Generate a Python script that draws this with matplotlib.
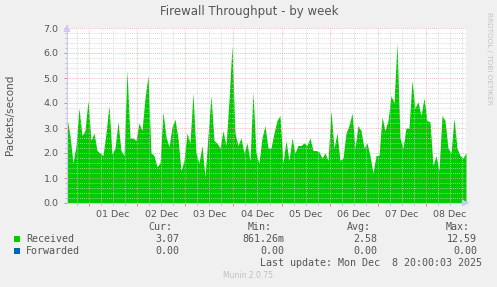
import matplotlib
matplotlib.use("Agg")
import matplotlib.pyplot as plt
import matplotlib.dates as mdates
from matplotlib.ticker import MultipleLocator, FuncFormatter, NullFormatter
import numpy as np
import pandas as pd

# Munin "Firewall Throughput - by week"
start = "2025-11-30 13:00"
end = "2025-12-08 20:00"

received = [
    3.4, 2.7, 1.6, 2.3, 3.8, 2.7, 2.9, 4.1, 2.5, 2.8,
    2.1, 2.0, 1.9, 2.8, 3.9, 1.95, 2.2, 3.25, 2.1, 1.9,
    5.3, 2.6, 2.6, 2.5, 3.2, 2.9, 4.2, 5.1, 2.0, 1.9,
    1.45, 1.6, 3.65, 2.65, 2.25, 3.05, 3.35, 2.6, 1.3, 1.7,
    2.8, 2.4, 4.4, 2.0, 1.6, 2.3, 1.05, 2.7, 4.3, 2.5,
    2.4, 2.2, 2.9, 2.3, 4.1, 6.3, 2.8, 2.3, 2.6, 2.0,
    2.4, 1.7, 4.45, 2.0, 1.6, 2.6, 3.1, 2.2, 2.2, 2.8,
    3.3, 3.5, 1.6, 2.5, 1.7, 2.6, 2.0, 2.3, 2.3, 2.4,
    2.3, 2.6, 2.1, 2.1, 2.05, 1.8, 2.0, 1.7, 3.7, 2.2,
    2.8, 1.7, 1.8, 2.8, 3.1, 3.6, 2.2, 3.1, 2.9, 2.2,
    2.4, 1.9, 1.2, 1.9, 1.9, 3.45, 2.9, 3.3, 4.3, 4.0,
    6.4, 2.6, 2.2, 3.0, 3.0, 4.9, 3.8, 4.05, 3.5, 4.2,
    3.3, 3.25, 1.5, 1.9, 1.3, 3.5, 3.3, 2.2, 2.0, 3.4,
    2.2, 1.9, 1.8, 2.0,
]
forwarded = [0.0] * len(received)

legend_names = ["Received", "Forwarded"]
legend_colors = ["#00CC00", "#0066B3"]
col_headers = ["Cur:", "Min:", "Avg:", "Max:"]
stats = [
    ["3.07", "861.26m", "2.58", "12.59"],
    ["0.00", "0.00", "0.00", "0.00"],
]

times = pd.date_range(start, end, periods=len(received))

W, H = 497, 287
BG = "#F0F0F0"
TXT = "#555555"
AXC = "#C8CCF4"
MGRID = "#EBA0A0"
GRID = "#CFCFCF"


def px(x, y):
    return x / W, 1 - y / H


fig = plt.figure(figsize=(W / 100, H / 100), dpi=100, facecolor=BG)
ax = fig.add_axes([67 / W, 84 / H, 399 / W, 175 / H])
ax.set_facecolor("white")

ax.fill_between(times, 0, received, color=legend_colors[0], linewidth=0, zorder=2)
ax.fill_between(times, received, np.array(received) + np.array(forwarded),
                color=legend_colors[1], linewidth=0, zorder=2)

ax.set_xlim(pd.Timestamp(start), pd.Timestamp(end))
ax.set_ylim(0, 7)

# y axis grid
ax.yaxis.set_major_locator(MultipleLocator(1.0))
ax.yaxis.set_minor_locator(MultipleLocator(0.2))
ax.yaxis.set_major_formatter(FuncFormatter(lambda v, p: f"{v:.1f}"))

# x axis: red lines at midnight, grey every 6h, labels at noon
ax.xaxis.set_major_locator(mdates.DayLocator())
ax.xaxis.set_major_formatter(NullFormatter())
ax.xaxis.set_minor_locator(mdates.HourLocator(byhour=[6, 12, 18]))


def day_label(x, pos):
    d = mdates.num2date(x)
    return d.strftime("%d %b") if d.hour == 12 else ""


ax.xaxis.set_minor_formatter(FuncFormatter(day_label))

ax.grid(which="major", color=MGRID, linestyle=(0, (1, 1.5)), linewidth=0.6, zorder=3)
ax.grid(which="minor", color=GRID, linestyle=(0, (1, 1.5)), linewidth=0.6, zorder=3)
ax.set_axisbelow(False)

for s in ["top", "right"]:
    ax.spines[s].set_visible(False)
for s in ["left", "bottom"]:
    ax.spines[s].set_color(AXC)
    ax.spines[s].set_linewidth(0.8)
    ax.spines[s].set_zorder(4)

ax.tick_params(axis="both", which="major", color="#E07070", length=2, width=0.6,
               labelsize=6.8, labelcolor=TXT)
ax.tick_params(axis="both", which="minor", color="#B0B0B0", length=1.5, width=0.6,
               labelsize=6.8, labelcolor=TXT)
ax.tick_params(axis="y", which="major", pad=4)
ax.tick_params(axis="x", which="minor", pad=3.5, length=1.5)

# arrows at axis ends
ax.annotate("", xy=(1.015, 0), xytext=(0.995, 0), xycoords="axes fraction",
            arrowprops=dict(arrowstyle="-|>", color=AXC, lw=0.8, mutation_scale=10),
            annotation_clip=False)
ax.annotate("", xy=(0, 1.035), xytext=(0, 0.99), xycoords="axes fraction",
            arrowprops=dict(arrowstyle="-|>", color=AXC, lw=0.8, mutation_scale=10),
            annotation_clip=False)

fig.text(*px(249, 12), "Firewall Throughput - by week", ha="center", va="center",
         fontsize=8.5, color=TXT)
fig.text(*px(10, 115), "Packets/second", ha="center", va="center", rotation=90,
         fontsize=7.5, color=TXT)
fig.text(*px(489, 58), "RRDTOOL / TOBI OETIKER", ha="center", va="center", rotation=270,
         fontsize=5.2, color="#C4C4C4")

mono = dict(family="DejaVu Sans Mono", fontsize=7.2, color=TXT, va="center")

header_right = [172, 272, 371, 470]
value_right = [179, 284, 377, 477]
for hx, h in zip(header_right, col_headers):
    fig.text(*px(hx, 227), h, ha="right", **mono)

row_y = [239, 251]
for ry, name, color, vals in zip(row_y, legend_names, legend_colors, stats):
    fig.patches.append(plt.Rectangle(px(14, ry + 3), 6 / W, 6 / H, transform=fig.transFigure,
                                     facecolor=color, edgecolor="none"))
    fig.text(*px(26, ry), name, ha="left", **mono)
    for vx, v in zip(value_right, vals):
        fig.text(*px(vx, ry), v, ha="right", **mono)

fig.text(*px(482, 263), "Last update: Mon Dec  8 20:00:03 2025", ha="right", **mono)
fig.text(*px(248, 276), "Munin 2.0.75", ha="center", va="center", fontsize=5.5, color="#C0C0C0")

fig.savefig("out.png", dpi=100, facecolor=BG)
